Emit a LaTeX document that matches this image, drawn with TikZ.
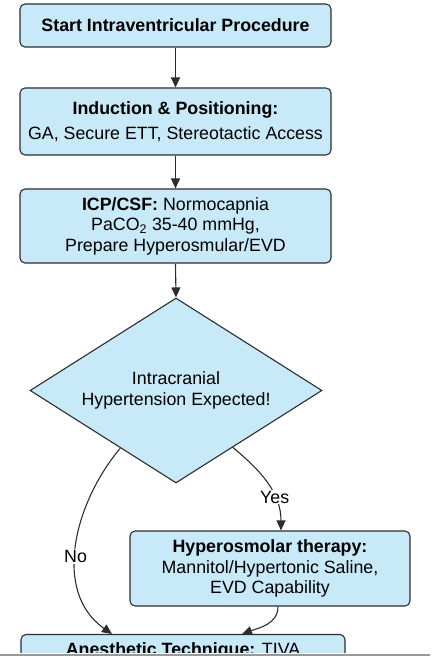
\documentclass[tikz,border=0pt]{standalone}
\usepackage{fontspec}
\setmainfont{Liberation Sans}
\usetikzlibrary{shapes.geometric,arrows.meta}
\definecolor{boxblue}{RGB}{199,233,248}
\definecolor{edgegray}{RGB}{45,45,45}
\begin{document}
\begin{tikzpicture}[x=1pt,y=1pt,
    font=\fontsize{17.8}{20.5}\selectfont,
    box/.style={draw=edgegray, fill=boxblue, line width=1.1pt, rounded corners=5pt, align=center, inner sep=0pt},
    decision/.style={diamond, aspect=1.58, draw=edgegray, fill=boxblue, line width=1.1pt, align=center, inner sep=0pt, minimum width=292pt, minimum height=185pt},
    arr/.style={-{Triangle[length=10pt,width=9pt]}, line width=1.1pt, draw=edgegray},
    lbl/.style={fill=white, inner sep=1pt}]
    \useasboundingbox (0,0) rectangle (438,657);

    % boxes
    \node[box, minimum width=311pt, minimum height=43pt] (start) at (175.5,631.5) {\textbf{Start Intraventricular Procedure}};
    \node[box, minimum width=311pt, minimum height=67pt] (induct) at (175.5,535.5) {\textbf{Induction \& Positioning:}\\[5pt] GA, Secure ETT, Stereotactic Access};
    \node[box, minimum width=311pt, minimum height=74pt] (icp) at (175.5,431) {\textbf{ICP/CSF:} Normocapnia\\ PaCO\textsubscript{2} 35-40 mmHg,\\ Prepare Hyperosmular/EVD};
    \node[decision] (hyp) at (176,266.5) {\raisebox{3pt}{Intracranial}\\ \raisebox{3pt}{Hypertension Expected!}};
    \node[box, minimum width=280pt, minimum height=75pt] (osmo) at (270,88.5) {\textbf{Hyperosmolar therapy:}\\ Mannitol/Hypertonic Saline,\\ EVD Capability};
    \begin{scope}
        \clip (0,4) rectangle (438,657);
        \node[box, minimum width=324pt, anchor=north, text height=13pt, text depth=4pt, inner ysep=8pt] (anest) at (183,23) {\textbf{Anesthetic Technique:} TIVA};
    \end{scope}

    % connectors
    \draw[arr] (start) -- (induct);
    \draw[arr] (induct) -- (icp);
    \draw[arr] (icp.south) -- (hyp.north);
    \draw[arr] (hyp.-45) to[out=-40, in=90] node[lbl, pos=0.66] {Yes} ([xshift=11pt]osmo.north);
    \draw[arr] (hyp.-134) to[out=-130, in=145] node[lbl, pos=0.55] {No} ([xshift=-71pt]anest.north);
    \draw[arr] ([xshift=8pt]osmo.south) to[out=-90, in=20] ([xshift=59pt]anest.north);

    % page edge
    \draw[gray!80, line width=1.5pt] (0,2) -- (430,2);
\end{tikzpicture}
\end{document}
